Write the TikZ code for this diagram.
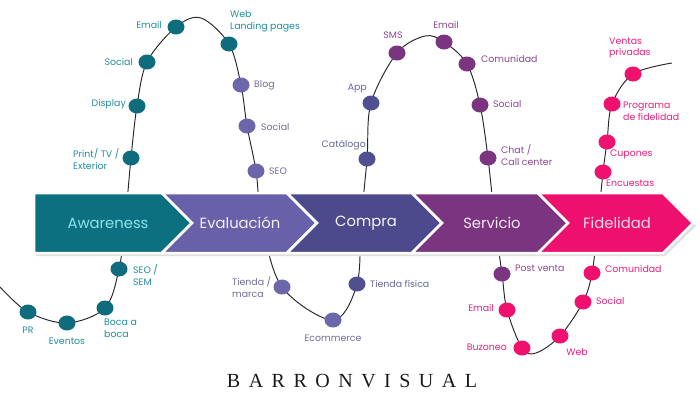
\documentclass[tikz,border=0pt]{standalone}
\usepackage{fontspec}
\usetikzlibrary{shapes.geometric}
\newfontfamily\labfont{Poppins}
\newfontfamily\brandfont{Liberation Serif}
\definecolor{cteal}{RGB}{13,112,128}
\definecolor{ceval}{RGB}{104,96,168}
\definecolor{ccompra}{RGB}{76,74,138}
\definecolor{cserv}{RGB}{122,52,128}
\definecolor{cfidel}{RGB}{238,16,110}
\definecolor{dteal}{RGB}{14,108,124}
\definecolor{deval}{RGB}{108,102,170}
\definecolor{dcompra}{RGB}{80,80,145}
\definecolor{dserv}{RGB}{122,52,128}
\definecolor{dpink}{RGB}{240,16,110}
\definecolor{lteal}{RGB}{30,140,155}
\definecolor{leval}{RGB}{110,108,150}
\definecolor{lcompra}{RGB}{100,104,150}
\definecolor{lserv}{RGB}{140,70,145}
\definecolor{lpink}{RGB}{230,30,125}
\definecolor{tteal}{RGB}{140,228,236}
\begin{document}
\begin{tikzpicture}[x=1pt,y=-1pt,
  dotnode/.style={shape=ellipse,minimum width=17pt,minimum height=15pt,inner sep=0pt,draw=none},
  lab/.style={font=\labfont\fontsize{9.4}{11.8}\selectfont,inner sep=0pt},
  chev/.style={draw=white,line width=2.5pt,line join=miter},
  chevtext/.style={font=\labfont\fontsize{14.8}{16}\selectfont,inner sep=0pt},
  curve/.style={draw=black!85,line width=0.95pt}]
\useasboundingbox (0,0) rectangle (700,408);
% curve points
\coordinate (p0) at (0,287);
\coordinate (pPR) at (28,312);
\coordinate (pEv) at (67,323);
\coordinate (pBo) at (105,308);
\coordinate (pSS) at (119,269);
\coordinate (x1) at (125,223);
\coordinate (pPT) at (131,158);
\coordinate (pDi) at (137,106);
\coordinate (pSo1) at (147,62);
\coordinate (pEm1) at (176,27);
\coordinate (k1) at (201,18);
\coordinate (pWe) at (229,44);
\coordinate (pBl) at (241,85);
\coordinate (pSo2) at (247,126);
\coordinate (pSe) at (256,171);
\coordinate (x2) at (262,223);
\coordinate (pTm) at (282,287);
\coordinate (pEc) at (333,320);
\coordinate (pTf) at (357,284);
\coordinate (x3) at (361,223);
\coordinate (pCa) at (367,159);
\coordinate (pAp) at (371,103);
\coordinate (pSM) at (397,53);
\coordinate (k2) at (425,36);
\coordinate (pEm2) at (444,42);
\coordinate (pCo1) at (467,64);
\coordinate (pSo3) at (480,105);
\coordinate (pCh) at (488,158);
\coordinate (x4) at (495,223);
\coordinate (pPv) at (502,274);
\coordinate (pEm3) at (507,310);
\coordinate (pBu) at (522,348);
\coordinate (k3) at (536,353);
\coordinate (pWb) at (560,336);
\coordinate (pSo4) at (583,302);
\coordinate (pCo2) at (592,273);
\coordinate (x5) at (598,223);
\coordinate (pEn) at (603,172);
\coordinate (pCu) at (607,142);
\coordinate (pPr) at (612,104);
\coordinate (pVe) at (633,74);
\coordinate (pEnd) at (672,63);
\draw[curve] plot[smooth,tension=0.55] coordinates {(p0) (pPR) (pEv) (pBo) (pSS) (x1) (pPT) (pDi) (pSo1) (pEm1) (k1) (pWe) (pBl) (pSo2) (pSe) (x2) (pTm) (pEc) (pTf) (x3) (pCa) (pAp) (pSM) (k2) (pEm2) (pCo1) (pSo3) (pCh) (x4) (pPv) (pEm3) (pBu) (k3) (pWb) (pSo4) (pCo2) (x5) (pEn) (pCu) (pPr) (pVe) (pEnd)};
% band shadow
\fill[black!12] (36,195) -- (665,195) -- (696,226) -- (665,256) -- (36,256) -- cycle;
% chevrons
\path[chev,fill=cteal] (34,193) -- (162,193) -- (192,223) -- (162,253) -- (34,253) -- cycle;
\path[chev,fill=ceval] (162,193) -- (287,193) -- (317,223) -- (287,253) -- (162,253) -- (192,223) -- cycle;
\path[chev,fill=ccompra] (287,193) -- (412,193) -- (442,223) -- (412,253) -- (287,253) -- (317,223) -- cycle;
\path[chev,fill=cserv] (412,193) -- (538,193) -- (568,223) -- (538,253) -- (412,253) -- (442,223) -- cycle;
\path[chev,fill=cfidel] (538,193) -- (663,193) -- (693,223) -- (663,253) -- (538,253) -- (568,223) -- cycle;
\node[chevtext,text=tteal] (tAw) at (108,223) {Awareness};
\node[chevtext,text=white!92!ceval] (tEv) at (240,223) {Evaluación};
\node[chevtext,text=white!95!ccompra] (tCo) at (366,223) {Compra};
\node[chevtext,text=white!90!cserv] (tSe) at (492,223) {Servicio};
\node[chevtext,text=white!85!cfidel] (tFi) at (617,223) {Fidelidad};
% dots
\foreach \p in {pPR,pEv,pBo,pSS,pPT,pDi,pSo1,pEm1,pWe}{\node[dotnode,fill=dteal] (n\p) at (\p) {};}
\foreach \p in {pBl,pSo2,pSe,pTm,pEc}{\node[dotnode,fill=deval] (n\p) at (\p) {};}
\foreach \p in {pTf,pCa,pAp}{\node[dotnode,fill=dcompra] (n\p) at (\p) {};}
\foreach \p in {pSM,pEm2,pCo1,pSo3,pCh,pPv}{\node[dotnode,fill=dserv] (n\p) at (\p) {};}
\foreach \p in {pEm3,pBu,pWb,pSo4,pCo2,pEn,pCu,pPr,pVe}{\node[dotnode,fill=dpink] (n\p) at (\p) {};}
% teal labels
\begin{scope}[lab,text=lteal]
\node[anchor=east] (lEm1) at (162,25) {Email};
\node[anchor=west,align=left] (lWe) at (230,21) {Web\\Landing pages};
\node[anchor=east] (lSo1) at (133,62) {Social};
\node[anchor=east] (lDi) at (126,104) {Display};
\node[anchor=west,align=left] (lPT) at (73,159) {Print/ TV /\\Exterior};
\node[anchor=west,align=left] (lSS) at (133,275) {SEO /\\SEM};
\node (lPR) at (28,330) {PR};
\node (lEv) at (67,341) {Eventos};
\node[anchor=west,align=left] (lBo) at (104,328) {Boca a\\boca};
\end{scope}
\begin{scope}[lab,text=leval]
\node[anchor=west] (lBl) at (254,85) {Blog};
\node[anchor=west] (lSo2) at (261,127) {Social};
\node[anchor=west] (lSe) at (269,171) {SEO};
\node[anchor=west,align=left] (lTm) at (232,287) {Tienda /\\marca};
\node (lEc) at (333,338) {Ecommerce};
\end{scope}
\begin{scope}[lab,text=lcompra]
\node[anchor=west] (lTf) at (370,284) {Tienda física};
\node[anchor=east] (lCa) at (366,145) {Catálogo};
\node[anchor=east] (lAp) at (367,88) {App};
\end{scope}
\begin{scope}[lab,text=lserv]
\node (lSM) at (393,35) {SMS};
\node (lEm2) at (446,25) {Email};
\node[anchor=west] (lCo1) at (481,59) {Comunidad};
\node[anchor=west] (lSo3) at (493,104) {Social};
\node[anchor=west,align=left] (lCh) at (501,155) {Chat /\\Call center};
\node[anchor=west] (lPv) at (515,268) {Post venta};
\end{scope}
\begin{scope}[lab,text=lpink]
\node[anchor=east] (lEm3) at (494,308) {Email};
\node[anchor=east] (lBu) at (507,347) {Buzoneo};
\node (lWb) at (577,352) {Web};
\node[anchor=west] (lSo4) at (596,301) {Social};
\node[anchor=west] (lCo2) at (605,269) {Comunidad};
\node[anchor=west,align=left] (lVe) at (609,48) {Ventas\\privadas};
\node[anchor=west,align=left] (lPr) at (623,111) {Programa\\de fidelidad};
\node[anchor=west] (lCu) at (610,154) {Cupones};
\node[anchor=west] (lEn) at (606,183) {Encuestas};
\end{scope}
% brand
\node[font=\brandfont\fontsize{20}{22}\selectfont,text=black!90,inner sep=0pt] (brand) at (352,381)
  {B\hspace{8.5pt}A\hspace{8.5pt}R\hspace{8.5pt}R\hspace{8.5pt}O\hspace{8.5pt}N\hspace{8.5pt}V\hspace{8.5pt}I\hspace{8.5pt}S\hspace{8.5pt}U\hspace{8.5pt}A\hspace{8.5pt}L};
\end{tikzpicture}
\end{document}
